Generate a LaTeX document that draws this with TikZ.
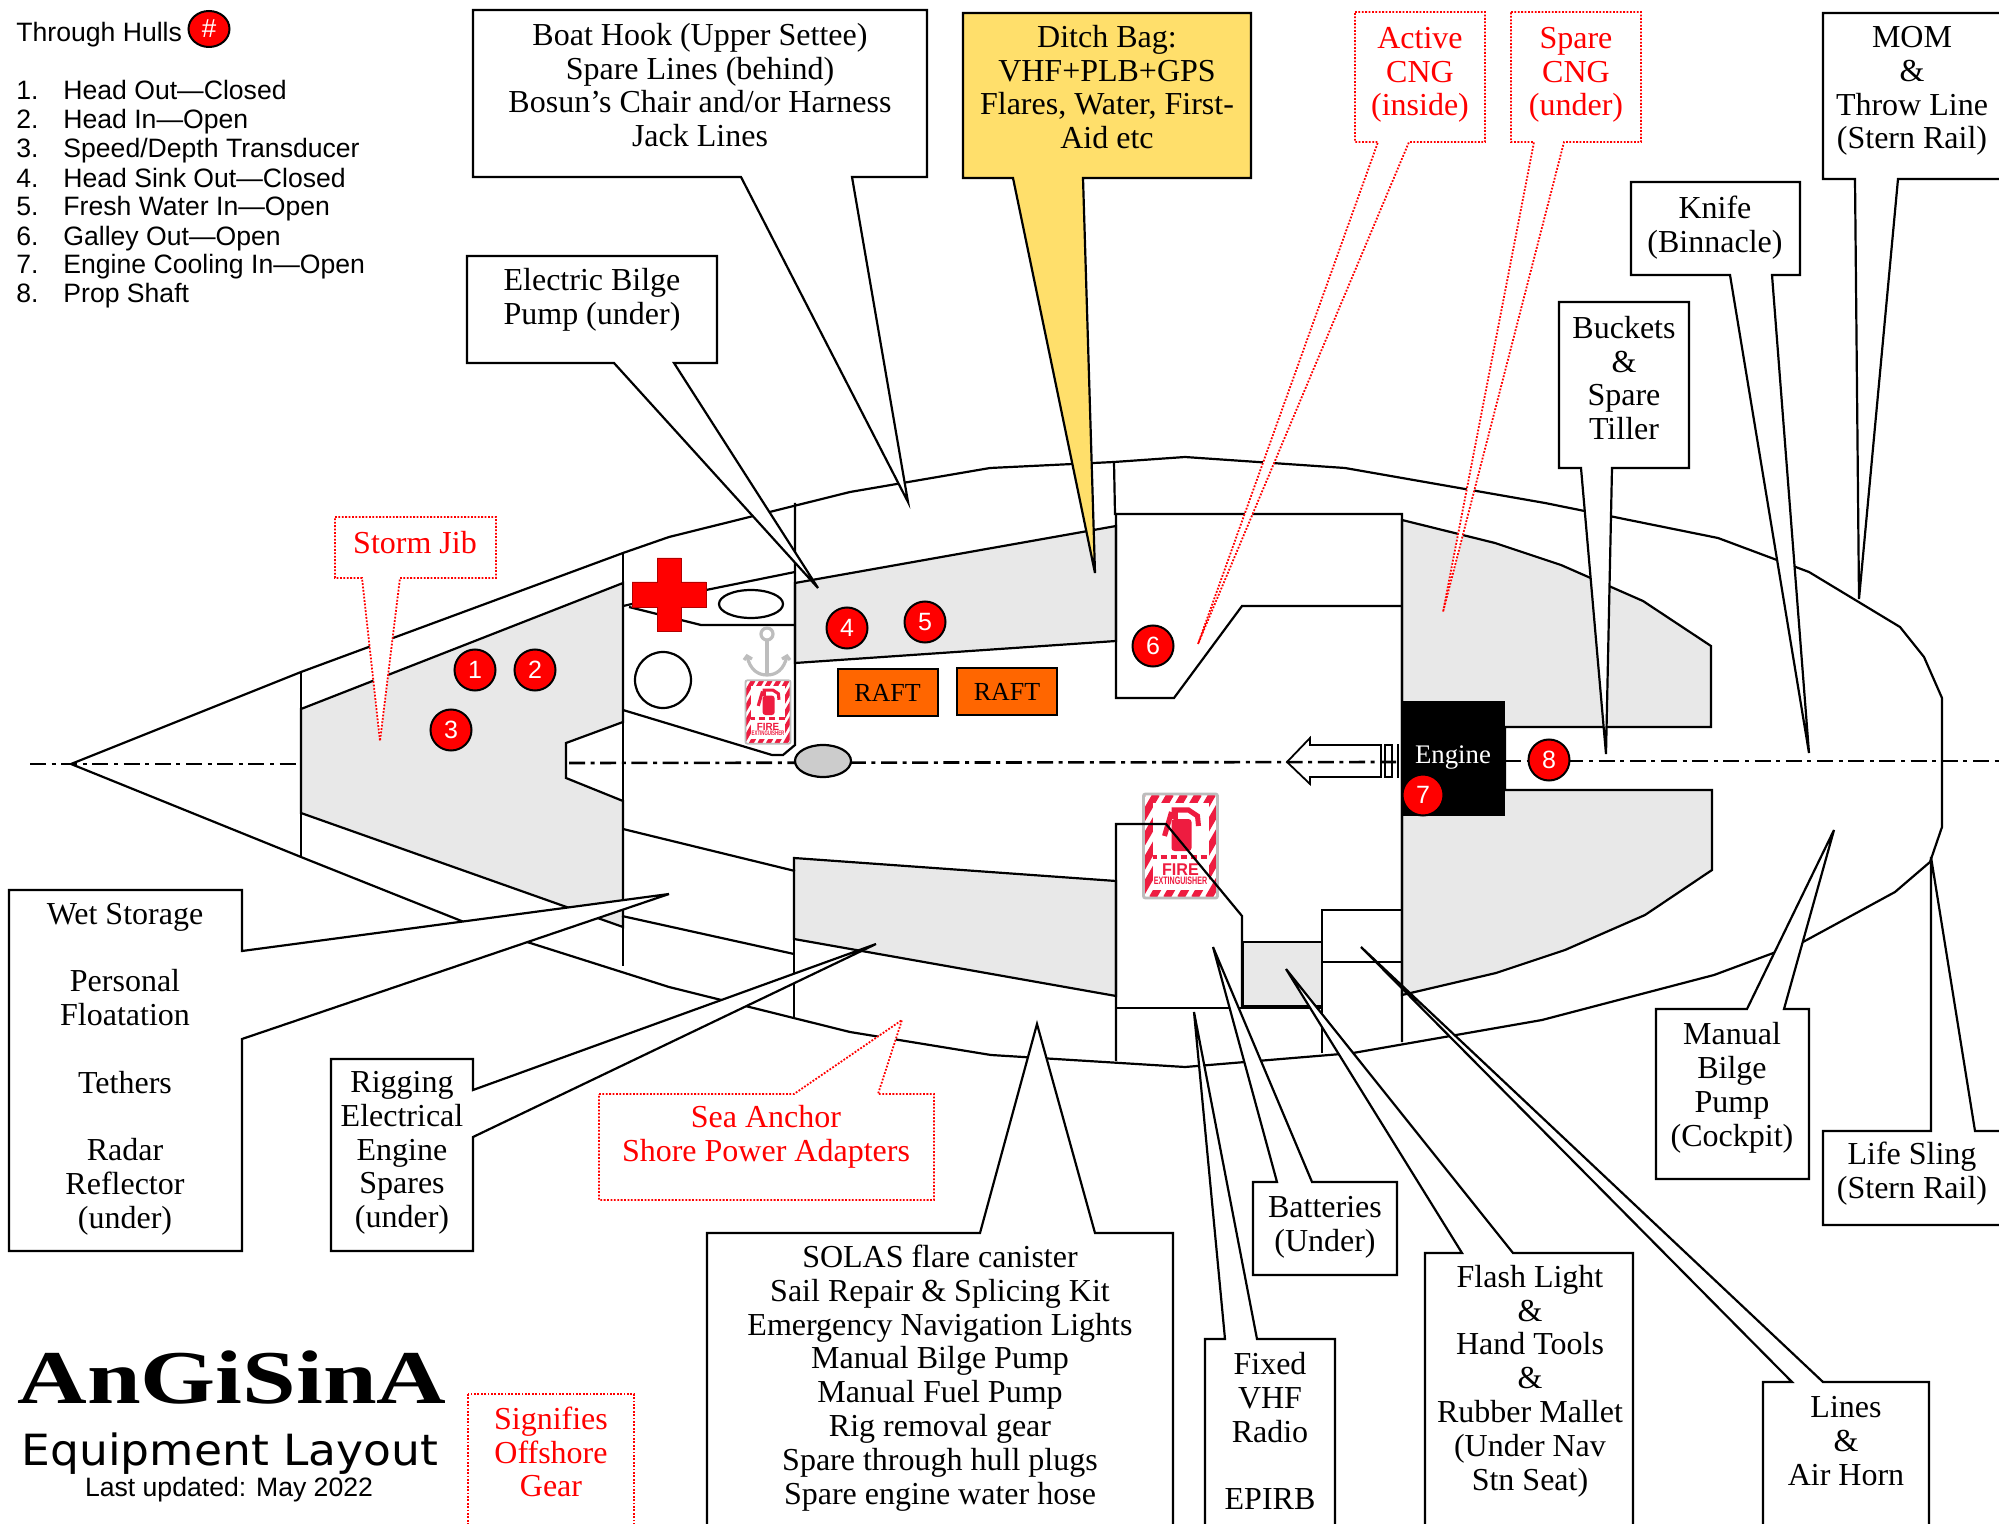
\documentclass[tikz,border=0pt]{standalone}
\usepackage{fontspec}
\usetikzlibrary{shapes.geometric}
\setmainfont{Liberation Serif}
\newfontfamily\legendfont{Liberation Sans}
\newfontfamily\titlefont{DejaVu Sans}
\definecolor{hullgrey}{HTML}{E8E8E8}
\definecolor{ovalgrey}{HTML}{CCCCCC}
\definecolor{ditch}{HTML}{FFDF6B}
\definecolor{raft}{HTML}{FF6600}
\definecolor{signred}{HTML}{EE1C40}
\definecolor{anchorgrey}{HTML}{BDBDBD}
\tikzset{
  hull/.style={draw=black,line width=1.1pt,line join=miter},
  part/.style={draw=black,line width=1.1pt,fill=hullgrey},
  centreline/.style={draw=black,line width=1.3pt,dash pattern=on 8pt off 2.8pt on 2pt off 2.8pt},
  call/.style={draw=black,line width=1.1pt,fill=white},
  callyellow/.style={draw=black,line width=1.1pt,fill=ditch},
  callred/.style={draw=red,line width=.9pt,fill=white,dash pattern=on .9pt off .8pt},
  tx/.style={align=center,inner sep=0pt,font=\fontsize{16}{16.9}\selectfont},
  txr/.style={tx,text=red},
  hole/.style={circle,draw=black,line width=1pt,fill=red,text=white,minimum size=20.5pt,inner sep=0pt,font=\legendfont\fontsize{12.5}{14}\selectfont},
  leg/.style={anchor=base west,inner sep=0pt,font=\legendfont\fontsize{13.3}{14.5}\selectfont},
  raftbox/.style={draw=black,line width=1pt,fill=raft,minimum width=50pt,minimum height=23.5pt,inner sep=0pt,font=\fontsize{13}{15}\selectfont},
}
% callout with its pointer on the bottom edge: style, x1,y1,x2,y2, base1, base2, tipx, tipy
\newcommand{\botcall}[9]{\draw[#1] (#2,#3) -- (#4,#3) -- (#4,#5) -- (#7,#5) -- (#8,#9) -- (#6,#5) -- (#2,#5) -- cycle;}
% callout with its pointer on the top edge
\newcommand{\topcall}[9]{\draw[#1] (#2,#3) -- (#6,#3) -- (#8,#9) -- (#7,#3) -- (#4,#3) -- (#4,#5) -- (#2,#5) -- cycle;}
% fire extinguisher sign: name, cx, cy, scale, stripe width
\newcommand{\firesign}[5]{%
\begin{scope}[shift={(#2,#3)},scale=#4]
  \fill[white] (-37,-52) rectangle (37,52);
  \begin{scope}
    \clip (-37,-52) rectangle (37,52);
    \foreach \k in {-126,-112,...,126}{\draw[signred,line width=#5] (\k,52) -- ({\k+60},-52);}
  \end{scope}
  \fill[white] (-28,-43) rectangle (28,44);
  \draw[anchorgrey,line width=#5*.4,rounded corners=1pt] (-37,-52) rectangle (37,52);
  \fill[signred,rounded corners=1.5pt] (-9,-27) rectangle (11,5);
  \draw[signred,line width=#5*.7] (-9,-36) -- (8,-36) -- (17,-30) -- (18,-20);
  \fill[signred] (-9,-38) -- (-3,-38) -- (-3,-27) -- (-9,-27) -- cycle;
  \draw[signred,line width=#5*.7] (-9,-34) -- (-16,-10);
  \draw[signred,line width=#5*.6,dash pattern=on 3pt off 2pt,dash phase=1pt] (-28,11) -- (28,11);
  \node[transform shape,text=signred,inner sep=0pt,xscale=.95,font=\legendfont\bfseries\fontsize{8.5}{9}\selectfont] (#1a) at (0,24) {FIRE};
  \node[transform shape,text=signred,inner sep=0pt,xscale=.66,font=\legendfont\bfseries\fontsize{5.4}{6}\selectfont] (#1b) at (0,35) {EXTINGUISHER};
\end{scope}}
\begin{document}
\begin{tikzpicture}[x=0.5pt,y=-0.5pt]
\useasboundingbox (0,0) rectangle (1999,1524);
\clip (0,0) rectangle (1999,1524);
\fill[white] (0,0) rectangle (1999,1524);

% grey compartments
\path[part] (301,709) -- (623,583) -- (623,722) -- (566,743) -- (566,778) -- (623,801) -- (623,927) -- (301,813) -- cycle;
\path[part] (795,583) -- (1116,526) -- (1116,641) -- (795,663) -- cycle;
\path[part] (794,858) -- (1116,881) -- (1116,996) -- (794,939) -- cycle;
\path[part] (1402,520) -- (1495,543) -- (1561,565) -- (1643,601) -- (1711,646) -- (1711,727) -- (1505,727) -- (1505,790) -- (1712,790) -- (1712,870) -- (1645,915) -- (1565,950) -- (1496,973) -- (1402,995) -- cycle;
\path[part] (1243,942) rectangle (1322,1006);

% hull outline
\draw[hull] (71,764) -- (301,672) -- (623,553) -- (669,537) -- (850,492) -- (990,468) -- (1114,462) -- (1185,457) -- (1345,468) -- (1545,503) -- (1718,538) -- (1809,572) -- (1900,627) -- (1924,657) -- (1942,698) -- (1942,827) -- (1930,862) -- (1895,892) -- (1803,942) -- (1714,975) -- (1542,1020) -- (1353,1053) -- (1185,1067) -- (991,1055) -- (850,1032) -- (669,987) -- (464,922) -- (301,857) -- cycle;

% bulkheads and interior lines
\draw[hull] (301,672) -- (301,857);
\draw[hull] (623,553) -- (623,966);
\draw[hull] (795,503) -- (795,745) -- (783,755) -- (772,755) -- (623,710);
\draw[hull] (623,829) -- (795,871);
\draw[hull] (622,916) -- (794,954);
\draw[hull] (794,858) -- (794,1017);
\draw[hull] (706,590) -- (795,572);
\draw[hull] (623,606) -- (632,604);
\draw[hull] (629,607) -- (701,625) -- (795,625);
\draw[hull] (1114,462) -- (1115,514) -- (1402,514) -- (1402,1042);
\draw[hull] (1116,514) -- (1116,698) -- (1174,698) -- (1242,606) -- (1402,606);

% fire extinguisher signs
\firesign{signa}{768}{712}{.61}{2.2pt}
\firesign{signb}{1180.5}{846}{1}{3.6pt}

% lower engine-room lockers
\draw[hull] (1116,1061) -- (1116,824) -- (1166,824) -- (1242,916) -- (1242,1008);
\draw[hull] (1116,1008) -- (1322,1008);
\draw[hull] (1322,1053) -- (1322,910) -- (1402,910);
\draw[hull] (1322,962) -- (1402,962);

% centre line
\draw[centreline] (30,764) -- (301,764);
\draw[centreline] (569,763) -- (1400,762);
\draw[centreline] (1505,761) -- (1999,761);

% heads, table, mast
\draw[hull,fill=white] (751,604) ellipse [x radius=32,y radius=14];
\draw[hull,fill=white] (663,680) ellipse [x radius=28,y radius=28];
\draw[hull,fill=ovalgrey] (823,761) ellipse [x radius=28,y radius=16];

% first aid cross
\draw[draw=red!70!black,line width=.3pt,fill=red] (657,558) -- (681,558) -- (681,582) -- (706,582) -- (706,607) -- (681,607) -- (681,631) -- (657,631) -- (657,607) -- (632,607) -- (632,582) -- (657,582) -- cycle;

% anchor
\draw[anchorgrey,line width=1.6pt] (767,634) ellipse [x radius=6,y radius=6];
\draw[anchorgrey,line width=1.6pt] (767,640) -- (767,675);
\draw[anchorgrey,line width=1.6pt] (747,656) .. controls (750,670) and (758,675) .. (767,675) .. controls (776,675) and (784,670) .. (787,656);
\draw[anchorgrey,line width=1.6pt] (744,660) -- (747,656) -- (752,659);
\draw[anchorgrey,line width=1.6pt] (782,659) -- (787,656) -- (790,660);

% rafts
\node[raftbox] (rafta) at (887.5,692.5) {RAFT};
\node[raftbox] (raftb) at (1007,691.5) {RAFT};

% propeller shaft arrow
\draw[hull,line width=.9pt] (1287,762) -- (1310,738) -- (1310,745) -- (1381,745) -- (1381,777) -- (1310,777) -- (1310,784) -- cycle;
\draw[hull,line width=.9pt] (1385,745) rectangle (1392,777);
\draw[hull] (1398,744) -- (1398,778);

% engine
\node[fill=black,text=white,minimum width=52pt,minimum height=57.5pt,inner sep=0pt,font=\fontsize{14}{16}\selectfont] (engine) at (1453,758.5) {};
\node[inner sep=0pt,text=white,font=\fontsize{13.4}{16}\selectfont] (enginelabel) at (1453,758) {Engine};

% callouts with a pointer on their bottom edge
\botcall{call}{473}{10}{927}{177}{741}{852}{908}{502}
\botcall{call}{467}{256}{717}{363}{614}{674}{818}{588}
\botcall{callyellow}{963}{13}{1251}{178}{1013}{1083}{1095}{573}
\botcall{callred}{1355}{12}{1485}{142}{1378}{1409}{1198}{644}
\botcall{callred}{1511}{12}{1641}{142}{1534}{1564}{1443}{612}
\botcall{call}{1823}{13}{2010}{179}{1855}{1898}{1859}{599}
\botcall{call}{1631}{182}{1800}{275}{1730}{1772}{1809}{753}
\botcall{call}{1559}{302}{1689}{468}{1581}{1612}{1606}{754}
\botcall{callred}{335}{517}{496}{578}{362}{400}{380}{741}

% callouts with a pointer on their right edge
\draw[call] (9,890) -- (242,890) -- (242,951) -- (669,894) -- (242,1039) -- (242,1251) -- (9,1251) -- cycle;
\draw[call] (331,1059) -- (473,1059) -- (473,1090) -- (876,944) -- (473,1137) -- (473,1251) -- (331,1251) -- cycle;

% callouts with a pointer on their top edge
\topcall{callred}{599}{1094}{934}{1200}{794}{878}{902}{1020}
\topcall{call}{707}{1233}{1173}{1560}{980}{1095}{1037}{1024}
\topcall{call}{1205}{1339}{1335}{1560}{1225}{1257}{1194}{1012}
\topcall{call}{1253}{1182}{1397}{1275}{1277}{1312}{1213}{947}
\topcall{call}{1425}{1253}{1633}{1560}{1462}{1513}{1286}{969}
\topcall{call}{1763}{1382}{1929}{1560}{1792}{1823}{1361}{947}
\topcall{call}{1656}{1009}{1809}{1179}{1747}{1784}{1834}{830}
\topcall{call}{1823}{1131}{2010}{1225}{1931}{1975}{1931}{857}
\draw[callred] (468,1394) rectangle (634,1560);

% callout texts
\node[tx] (hook) at (700,85) {Boat Hook (Upper Settee)\\Spare Lines (behind)\\Bosun’s Chair and/or Harness\\Jack Lines};
\node[tx] (bilgeE) at (592,300) {Electric Bilge\\Pump (under)};
\node[tx] (bag) at (1107,87) {Ditch Bag:\\VHF+PLB+GPS\\Flares, Water, First-\\Aid etc};
\node[txr] (cngA) at (1420,75) {Active\\CNG\\(inside)};
\node[txr] (cngS) at (1576,75) {Spare\\CNG\\(under)};
\node[tx] (mom) at (1912,91) {MOM\\\&\\Throw Line\\(Stern Rail)};
\node[tx] (knife) at (1715,228) {Knife\\(Binnacle)};
\node[tx] (buckets) at (1624,378) {Buckets\\\&\\Spare\\Tiller};
\node[txr] (jib) at (415,543) {Storm Jib};
\node[tx] (wet) at (125,1069) {Wet Storage\\[16.9pt]Personal\\Floatation\\[16.9pt]Tethers\\[16.9pt]Radar\\Reflector\\(under)};
\node[tx] (rig) at (402,1153) {Rigging\\Electrical\\Engine\\Spares\\(under)};
\node[txr] (sea) at (766,1137) {Sea Anchor\\Shore Power Adapters};
\node[tx] (solas) at (940,1378) {SOLAS flare canister\\Sail Repair \& Splicing Kit\\Emergency Navigation Lights\\Manual Bilge Pump\\Manual Fuel Pump\\Rig removal gear\\Spare through hull plugs\\Spare engine water hose};
\node[tx] (vhf) at (1270,1431) {Fixed\\VHF\\Radio\\[16.9pt]EPIRB};
\node[tx] (batt) at (1325,1227) {Batteries\\(Under)};
\node[tx] (flash) at (1530,1381) {Flash Light\\\&\\Hand Tools\\\&\\Rubber Mallet\\(Under Nav\\Stn Seat)};
\node[tx] (lines) at (1846,1441) {Lines\\\&\\Air Horn};
\node[tx] (bilgeM) at (1732,1088) {Manual\\Bilge\\Pump\\(Cockpit)};
\node[tx] (sling) at (1912,1174) {Life Sling\\(Stern Rail)};
\node[txr] (sig) at (551,1452) {Signifies\\Offshore\\Gear};

% through hulls
\node[hole] (h1) at (475,670) {1};
\node[hole] (h2) at (535,670) {2};
\node[hole] (h3) at (451,730) {3};
\node[hole] (h4) at (847,628) {4};
\node[hole] (h5) at (925,622) {5};
\node[hole] (h6) at (1153,646) {6};
\node[hole] (h7) at (1423,795) {7};
\node[hole] (h8) at (1549,760) {8};

% legend
\node[leg] (legt) at (16,42) {Through Hulls};
\node[ellipse,draw=black,line width=1pt,fill=red,text=white,minimum width=20.5pt,minimum height=18pt,inner sep=0pt,font=\legendfont\fontsize{13}{14}\selectfont] (legh) at (209,29) {\#};
\foreach \n/\t/\yy in {1/Head Out—Closed/99.5,2/Head In—Open/129,3/Speed\slash Depth Transducer/158,4/Head Sink Out—Closed/187.5,5/Fresh Water In—Open/216,6/Galley Out—Open/245.5,7/Engine Cooling In—Open/274,8/Prop Shaft/303}{
  \node[leg] (legn\n) at (16,\yy) {\n.};
  \node[leg] (legi\n) at (63,\yy) {\t};
}

% title
\node[inner sep=0pt,xscale=1.27,anchor=base,font=\bfseries\fontsize{38}{40}\selectfont] (logo) at (232,1403) {AnGiSinA};
\node[inner sep=0pt,xscale=1.06,anchor=base,font=\titlefont\fontsize{21.5}{23}\selectfont] (title) at (230,1465) {Equipment Layout};
\node[inner sep=0pt,anchor=base,font=\legendfont\fontsize{13.3}{15}\selectfont] (updated) at (229,1496) {Last updated: May 2022};
\end{tikzpicture}
\end{document}
